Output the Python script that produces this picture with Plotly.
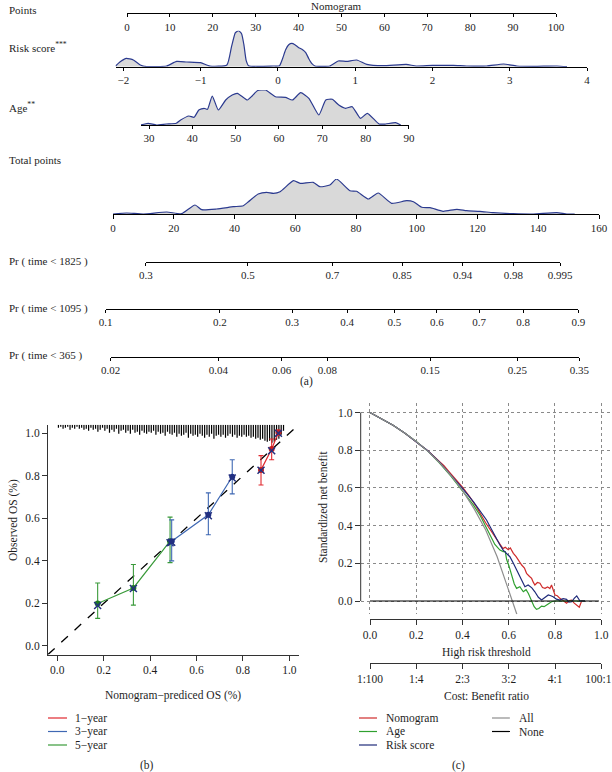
import plotly.graph_objects as go

W, H = 612, 772
FONT = "Liberation Serif"
TXT = "#1e1e1e"

# ---------------- data: nomogram (a) ----------------
points_ticks = [0, 10, 20, 30, 40, 50, 60, 70, 80, 90, 100]
risk_ticks = [-2, -1, 0, 1, 2, 3, 4]
age_ticks = [30, 40, 50, 60, 70, 80, 90]
total_ticks = [0, 20, 40, 60, 80, 100, 120, 140, 160]

risk_x = [-2.10, -2.04, -1.96, -1.87, -1.78, -1.70, -1.44, -1.31, -1.18, -1.00, -0.88,
          -0.66, -0.60, -0.55, -0.51, -0.47, -0.44, -0.41, -0.38, -0.06, 0.02, 0.06,
          0.10, 0.14, 0.18, 0.22, 0.27, 0.32, 0.36, 0.40, 0.44, 0.48, 0.67, 0.78, 0.89,
          1.02, 1.15, 1.36, 1.66, 1.79, 2.00, 2.27, 2.44, 2.70, 2.92, 3.09, 3.31, 3.61, 3.74]
risk_d = [0.7, 5.0, 8.3, 6.7, 1.7, 0.2, 0.7, 5.3, 4.7, 4.0, 0.7,
          1.7, 20.0, 34.0, 36.0, 33.0, 22.0, 6.0, 1.0, 0.7, 1.0, 8.0,
          17.0, 22.0, 23.3, 22.0, 19.0, 17.0, 14.0, 8.0, 3.0, 0.7, 0.7, 5.7, 5.3,
          6.7, 2.3, 1.0, 2.3, 0.7, 1.3, 1.3, 0.7, 0.7, 2.7, 0.7, 0.3, 0.7, 0.0]

age_x = [28.1, 29.8, 31.7, 34.0, 36.3, 37.3, 39.2, 40.4, 41.5, 42.7, 43.5, 44.6, 46.0,
         47.7, 49.2, 50.4, 52.7, 53.8, 55.0, 56.9, 59.2, 61.5, 63.1, 65.0, 66.9, 69.2,
         70.8, 72.3, 73.8, 75.4, 76.9, 78.8, 80.4, 83.1, 84.6, 86.9, 88.1]
age_d = [0.0, 1.7, 0.0, 1.0, 1.7, 5.0, 9.0, 7.7, 15.0, 16.7, 15.7, 29.0, 15.0,
         25.0, 30.0, 31.7, 25.0, 29.0, 34.3, 35.0, 28.3, 27.7, 25.0, 32.3, 26.7, 10.0,
         25.0, 25.7, 20.0, 16.7, 18.3, 6.7, 11.7, 1.0, 1.0, 2.3, 0.0]

total_x = [0, 4.5, 10, 17.7, 22.6, 27, 29.2, 34.1, 39.6, 42.9, 44.6, 47.8, 50.6, 52.8,
           55, 59.4, 61.6, 65.9, 68.1, 71.4, 73.6, 78, 80.2, 84.1, 87.3, 91.7, 96.7,
           98.9, 101.6, 104.4, 108.7, 113.2, 116.4, 120.8, 125.2, 131.8, 138.4, 146.1,
           149.4, 152]
total_d = [0, 1, 0, 2, 0.3, 9, 4.3, 5, 7.3, 8.3, 12.3, 20, 21.7, 20.7,
           22.3, 33.3, 30.7, 31.7, 27.3, 29, 35, 23.3, 22.7, 15, 21, 10.7, 13.3,
           12.3, 6.7, 6.3, 2.7, 4.7, 3.3, 2.7, 1.3, 0.3, 0, 1.3, 0, 0]

pr1825_labels = ["0.3", "0.5", "0.7", "0.85", "0.94", "0.98", "0.995"]
pr1825_pts = [10.8, 44.4, 72.2, 95.2, 115.1, 131.8, 147.2]
pr1095_labels = ["0.1", "0.2", "0.3", "0.4", "0.5", "0.6", "0.7", "0.8", "0.9"]
pr1095_pts = [-2.4, 35.2, 59.0, 77.1, 92.6, 106.6, 120.5, 135.0, 153.2]
pr365_labels = ["0.02", "0.04", "0.06", "0.08", "0.15", "0.25", "0.35"]
pr365_pts = [-0.8, 34.7, 55.5, 70.6, 104.4, 133.1, 153.5]

# ---------------- data: calibration (b) ----------------
cal_ticks = [0.0, 0.2, 0.4, 0.6, 0.8, 1.0]
ideal = [-0.04, 1.04]
cal1_x = [0.878, 0.924, 0.953]
cal1_y = [0.828, 0.926, 1.004]
cal1_lo = [0.757, 0.876, 0.990]
cal1_hi = [0.895, 0.973, 1.015]
cal1_bc = [0.826, 0.918, 1.000]
cal3_x = [0.493, 0.651, 0.754]
cal3_y = [0.492, 0.617, 0.796]
cal3_lo = [0.400, 0.523, 0.715]
cal3_hi = [0.593, 0.720, 0.876]
cal3_bc = [0.488, 0.612, 0.790]
cal5_x = [0.174, 0.328, 0.486]
cal5_y = [0.200, 0.273, 0.493]
cal5_lo = [0.130, 0.192, 0.392]
cal5_hi = [0.296, 0.383, 0.606]
cal5_bc = [0.190, 0.270, 0.485]
rug_x = [i / 100 + 0.005 for i in range(98)]
rug_len = [3, 2, 4, 3, 2, 5, 3, 4, 2, 4,
           3, 5, 4, 6, 3, 5, 4, 7, 5, 3,
           6, 4, 8, 5, 7, 4, 9, 6, 5, 8,
           6, 9, 5, 8, 7, 10, 6, 8, 9, 7,
           8, 6, 10, 7, 9, 8, 11, 7, 9, 10,
           8, 12, 9, 11, 10, 8, 13, 9, 11, 10,
           12, 9, 11, 13, 10, 12, 9, 14, 11, 10,
           12, 10, 13, 11, 9, 12, 10, 13, 11, 12,
           10, 12, 11, 13, 12, 14, 13, 15, 14, 16,
           17, 16, 18, 17, 15, 14, 10, 6]

# ---------------- data: decision curve (c) ----------------
thr_ticks = [0.0, 0.2, 0.4, 0.6, 0.8, 1.0]
cb_labels = ["1:100", "1:4", "2:3", "3:2", "4:1", "100:1"]
all_x = [0, 0.05, 0.10, 0.15, 0.20, 0.25, 0.30, 0.35, 0.40, 0.45, 0.50, 0.55, 0.60, 0.635]
all_y = [1.0, 0.968, 0.932, 0.891, 0.846, 0.795, 0.735, 0.666, 0.587, 0.49, 0.378, 0.235, 0.06, -0.07]
none_x = [0, 0.99]
none_y = [0, 0]
nom_x = [0, 0.05, 0.10, 0.15, 0.20, 0.25, 0.30, 0.32, 0.35, 0.40, 0.43, 0.46, 0.50, 0.53,
         0.548, 0.562, 0.575, 0.585, 0.598, 0.607, 0.62, 0.632, 0.641, 0.656, 0.668,
         0.677, 0.690, 0.699, 0.706, 0.713, 0.724, 0.735, 0.746, 0.757, 0.768, 0.778,
         0.785, 0.793, 0.80, 0.81, 0.821, 0.835, 0.85, 0.862, 0.872, 0.882, 0.894,
         0.905, 0.915, 0.93]
nom_y = [1.0, 0.968, 0.932, 0.891, 0.846, 0.797, 0.74, 0.718, 0.675, 0.604, 0.555, 0.50,
         0.415, 0.36, 0.33, 0.30, 0.278, 0.285, 0.272, 0.282, 0.253, 0.235, 0.218, 0.191,
         0.175, 0.147, 0.13, 0.12, 0.10, 0.085, 0.098, 0.094, 0.072, 0.067, 0.075, 0.066,
         0.085, 0.06, 0.032, 0.028, 0.014, 0.003, -0.012, 0.002, 0.005, -0.01, -0.02,
         -0.033, 0.0, 0.0]
rs_x = [0, 0.05, 0.10, 0.15, 0.20, 0.25, 0.30, 0.35, 0.40, 0.447, 0.48, 0.504, 0.53,
        0.548, 0.562, 0.576, 0.59, 0.605, 0.62, 0.634, 0.645, 0.656, 0.67, 0.684, 0.70,
        0.713, 0.728, 0.742, 0.756, 0.771, 0.782, 0.792, 0.806, 0.821, 0.835, 0.85, 0.86,
        0.872, 0.884, 0.894, 0.908, 0.93]
rs_y = [1.0, 0.968, 0.932, 0.891, 0.846, 0.797, 0.738, 0.670, 0.597, 0.527, 0.47, 0.43,
        0.37, 0.324, 0.297, 0.27, 0.255, 0.235, 0.20, 0.164, 0.14, 0.111, 0.076, 0.085,
        0.07, 0.049, 0.02, 0.005, 0.018, 0.032, 0.028, 0.023, 0.01, 0.005, 0.012, 0.009,
        -0.006, -0.004, 0.015, 0.027, 0.0, 0.0]
agec_x = [0, 0.05, 0.10, 0.15, 0.20, 0.25, 0.30, 0.35, 0.40, 0.447, 0.476, 0.50, 0.519,
          0.54, 0.562, 0.576, 0.585, 0.591, 0.60, 0.613, 0.624, 0.634, 0.648, 0.663,
          0.675, 0.685, 0.699, 0.71, 0.72, 0.73, 0.742, 0.753, 0.764, 0.775, 0.785,
          0.80, 0.85, 0.93]
agec_y = [1.0, 0.968, 0.932, 0.891, 0.846, 0.795, 0.733, 0.662, 0.585, 0.51, 0.455, 0.40,
          0.35, 0.30, 0.27, 0.262, 0.262, 0.22, 0.19, 0.129, 0.09, 0.067, 0.076, 0.049,
          0.06, 0.04, 0.005, -0.03, -0.044, -0.04, -0.027, -0.03, -0.021, -0.01, -0.004,
          0.0, 0.0, 0.0]

# ---------------- helpers ----------------
def fx(p):
    return p / W

def fy(p):
    return 1 - p / H

def sfx(n):
    return "" if n == 1 else str(n)

DENS_LINE = "#2B3A8F"
DENS_FILL = "#D9D9D9"
RED_C, BLUE_C, GREEN_C = "#E0282E", "#3F68B3", "#3A9A3A"
RED_D, BLUE_D, GREEN_D, NAVY = "#C81E1E", "#1F2F85", "#1E7A22", "#23307F"
DCA_RED, DCA_GREEN, DCA_BLUE, DCA_GRAY = "#CF2A2A", "#2FA02F", "#1F2A7A", "#8E8E8E"

layout = dict(
    width=W, height=H, margin=dict(l=0, r=0, t=0, b=0, autoexpand=False),
    paper_bgcolor="white", plot_bgcolor="rgba(0,0,0,0)", showlegend=False,
    font=dict(family=FONT, size=11, color=TXT),
)
traces = []
annotations = []
shapes = []

def tick_font(sz=11):
    return dict(family=FONT, size=sz, color=TXT)

def add_row(n, x0, x1, rng, base, top, ymax, tickvals, ticktext=None, ticklen=3):
    xa = dict(domain=[fx(x0), fx(x1)], range=rng, anchor="y" + sfx(n), showline=True,
              linecolor="black", linewidth=1, ticks="outside", ticklen=ticklen, tickwidth=1,
              tickcolor="black", tickvals=tickvals, showgrid=False, zeroline=False,
              tickfont=tick_font(11), fixedrange=True, automargin=False,
              ticklabeloverflow="allow")
    if ticktext is not None:
        xa["ticktext"] = ticktext
    layout["xaxis" + sfx(n)] = xa
    layout["yaxis" + sfx(n)] = dict(domain=[fy(base), fy(top)], range=[0, ymax],
                                    anchor="x" + sfx(n), visible=False, fixedrange=True,
                                    automargin=False)
    traces.append(go.Scatter(x=[], y=[], xaxis="x" + sfx(n), yaxis="y" + sfx(n),
                             showlegend=False, hoverinfo="skip"))

def density(n, xs, ds):
    traces.append(go.Scatter(x=xs, y=ds, xaxis="x" + sfx(n), yaxis="y" + sfx(n), mode="lines",
                             line=dict(color=DENS_LINE, width=1.2, shape="spline", smoothing=0.5),
                             fill="tozeroy", fillcolor=DENS_FILL, showlegend=False,
                             hoverinfo="skip"))

# pixel scales of the nomogram rows
def risk_px(v):
    return 123.3 + (v + 2) * 77.3

def age_px(v):
    return 149.0 + (v - 30) * 4.333

def tot_px(v):
    return 113.0 + v * 486.0 / 160.0

# ---------------- (a) nomogram ----------------
add_row(1, 127, 556, [0, 100], 13.3, 6, 1, points_ticks)
add_row(2, risk_px(-2.1), risk_px(4), [-2.1, 4], 66.7, 30.7, 36, risk_ticks)
density(2, risk_x, risk_d)
add_row(3, age_px(28.15), age_px(90), [28.15, 90], 125, 90, 35, age_ticks)
density(3, age_x, age_d)
add_row(4, tot_px(0), tot_px(160), [0, 160], 214, 179, 35, total_ticks, ticklen=4)
density(4, total_x, total_d)
add_row(5, tot_px(pr1825_pts[0]), tot_px(pr1825_pts[-1]), [pr1825_pts[0], pr1825_pts[-1]],
        261.7, 255, 1, pr1825_pts, pr1825_labels)
add_row(6, tot_px(pr1095_pts[0]), tot_px(pr1095_pts[-1]), [pr1095_pts[0], pr1095_pts[-1]],
        309, 302, 1, pr1095_pts, pr1095_labels)
add_row(7, tot_px(pr365_pts[0]), tot_px(pr365_pts[-1]), [pr365_pts[0], pr365_pts[-1]],
        356.7, 350, 1, pr365_pts, pr365_labels)

def ann(text, x, y, size=11, xanchor="left", yanchor="middle", angle=0):
    annotations.append(dict(text=text, x=fx(x), y=fy(y), xref="paper", yref="paper",
                            showarrow=False, xanchor=xanchor, yanchor=yanchor,
                            textangle=angle, font=dict(family=FONT, size=size, color=TXT)))

ann("Nomogram", 336, 5.5, xanchor="center")
ann("Points", 7, 10)
ann("Risk score<sup>***</sup>", 7, 47)
ann("Age<sup>**</sup>", 7, 107)
ann("Total points", 7, 160)
ann("Pr ( time &lt; 1825 )", 7, 261)
ann("Pr ( time &lt; 1095 )", 7, 308)
ann("Pr ( time &lt; 365 )", 7, 355)
ann("(a)", 306, 381, size=11.5, xanchor="center")

# ---------------- (b) calibration ----------------
layout["xaxis8"] = dict(domain=[fx(48), fx(298.6)], range=[-0.04, 1.04], anchor="y8",
                        showline=True, linecolor="#333", linewidth=1, ticks="outside",
                        ticklen=5, tickcolor="#333", tickvals=cal_ticks, tickformat=".1f",
                        showgrid=False, zeroline=False, tickfont=tick_font(11.5),
                        automargin=False)
layout["yaxis8"] = dict(domain=[fy(654.5), fy(424.8)], range=[-0.04, 1.04], anchor="x8",
                        showline=True, linecolor="#333", linewidth=1, ticks="outside",
                        ticklen=5, tickcolor="#333", tickvals=cal_ticks, tickformat=".1f",
                        showgrid=False, zeroline=False, tickfont=tick_font(11.5),
                        automargin=False)

rug_xs, rug_ys = [], []
for xv, ln in zip(rug_x, rug_len):
    rug_xs += [xv, xv, None]
    rug_ys += [1.04, 1.04 - ln / 213.3, None]
traces.append(go.Scatter(x=rug_xs, y=rug_ys, xaxis="x8", yaxis="y8", mode="lines",
                         line=dict(color="black", width=1.2), showlegend=False,
                         hoverinfo="skip"))
traces.append(go.Scatter(x=ideal, y=ideal, xaxis="x8", yaxis="y8", mode="lines",
                         line=dict(color="black", width=1.3, dash="dash"), showlegend=False,
                         hoverinfo="skip"))

for xs, ys, lo, hi, bc, lc, dc in [
    (cal5_x, cal5_y, cal5_lo, cal5_hi, cal5_bc, GREEN_C, GREEN_D),
    (cal3_x, cal3_y, cal3_lo, cal3_hi, cal3_bc, BLUE_C, BLUE_D),
    (cal1_x, cal1_y, cal1_lo, cal1_hi, cal1_bc, RED_C, RED_D),
]:
    traces.append(go.Scatter(
        x=xs, y=ys, xaxis="x8", yaxis="y8", mode="lines",
        line=dict(color=lc, width=1.2), showlegend=False, hoverinfo="skip",
        error_y=dict(type="data", symmetric=False,
                     array=[h - y for h, y in zip(hi, ys)],
                     arrayminus=[y - l for y, l in zip(ys, lo)],
                     color=lc, thickness=1.1, width=2.5)))
    traces.append(go.Scatter(x=xs, y=ys, xaxis="x8", yaxis="y8", mode="markers",
                             marker=dict(color=dc, size=6), showlegend=False,
                             hoverinfo="skip"))
    traces.append(go.Scatter(x=xs, y=bc, xaxis="x8", yaxis="y8", mode="markers",
                             marker=dict(symbol="x-thin-open", size=7, color=NAVY,
                                         line=dict(color=NAVY, width=1.5)),
                             showlegend=False, hoverinfo="skip"))

ann("Observed OS (%)", 13, 520, size=11.5, xanchor="center", angle=-90)
ann("Nomogram\u2212prediced OS (%)", 173, 695, size=11.5, xanchor="center")
for i, (lab, col) in enumerate([("1\u2212year", RED_C), ("3\u2212year", BLUE_C),
                                ("5\u2212year", GREEN_C)]):
    yy = 718 + i * 13.5
    shapes.append(dict(type="line", xref="paper", yref="paper", x0=fx(48), x1=fx(67),
                       y0=fy(yy), y1=fy(yy), line=dict(color=col, width=1.2)))
    ann(lab, 73, yy, size=11.5)
ann("(b)", 147, 765, size=11.5, xanchor="center")

# ---------------- (c) decision curve ----------------
grid = dict(showgrid=True, gridcolor="#8a8a8a", griddash="dot", gridwidth=1)
layout["xaxis9"] = dict(domain=[fx(360.7), fx(610.5)], range=[-0.04, 1.04], anchor="y9",
                        showline=False, ticks="", showticklabels=False, tickvals=thr_ticks,
                        zeroline=False, automargin=False, **grid)
layout["yaxis9"] = dict(domain=[fy(614.2), fy(403.1)], range=[-0.07, 1.05], anchor="x9",
                        showline=False, ticks="outside", ticklen=5, tickcolor="#333",
                        tickvals=thr_ticks, tickformat=".1f", zeroline=False,
                        tickfont=tick_font(11.5), automargin=False, **grid)
shapes.append(dict(type="line", xref="x9 domain", yref="y9", x0=0, x1=0, y0=0, y1=1,
                   line=dict(color="#333", width=1)))

# threshold axis, cost:benefit axis (all labels but the last), and the last label
# drawn on a twin axis shifted slightly left so that it stays inside the page
for n, ypos, tv, tt, show_line, tcol, shift in [
    (10, 619.3, thr_ticks, None, True, "#333", 0),
    (11, 663.3, thr_ticks, cb_labels[:-1] + [""], True, "#333", 0),
    (12, 663.3, thr_ticks[-1:], cb_labels[-1:], False, "rgba(0,0,0,0)", -3),
]:
    xa = dict(domain=[fx(370), fx(601.3)], range=[0, 1], anchor="y" + str(n),
              showline=show_line, linecolor="#333", linewidth=1, ticks="outside", ticklen=5,
              tickcolor=tcol, tickvals=tv, showgrid=False, zeroline=False,
              tickfont=tick_font(11.5), automargin=False, ticklabeloverflow="allow")
    if shift:
        xa["ticklabelshift"] = shift
    if tt is None:
        xa["tickformat"] = ".1f"
    else:
        xa["ticktext"] = tt
    layout["xaxis" + str(n)] = xa
    layout["yaxis" + str(n)] = dict(domain=[fy(ypos), fy(ypos - 4)], range=[0, 1],
                                    anchor="x" + str(n), visible=False, automargin=False)
    traces.append(go.Scatter(x=[], y=[], xaxis="x" + str(n), yaxis="y" + str(n),
                             showlegend=False, hoverinfo="skip"))

for xs, ys, col in [(nom_x, nom_y, DCA_RED), (agec_x, agec_y, DCA_GREEN),
                    (rs_x, rs_y, DCA_BLUE), (all_x, all_y, DCA_GRAY),
                    (none_x, none_y, "black")]:
    traces.append(go.Scatter(x=xs, y=ys, xaxis="x9", yaxis="y9", mode="lines",
                             line=dict(color=col, width=1.2), showlegend=False,
                             hoverinfo="skip"))

ann("Standardized net benefit", 323, 507, size=11.5, xanchor="center", angle=-90)
ann("High risk threshold", 486, 652, size=11.5, xanchor="center")
ann("Cost: Benefit ratio", 486, 696, size=11.5, xanchor="center")
for i, (lab, col) in enumerate([("Nomogram", DCA_RED), ("Age", DCA_GREEN),
                                ("Risk score", DCA_BLUE)]):
    yy = 718 + i * 13.5
    shapes.append(dict(type="line", xref="paper", yref="paper", x0=fx(359), x1=fx(377),
                       y0=fy(yy), y1=fy(yy), line=dict(color=col, width=1.2)))
    ann(lab, 384, yy, size=11.5)
for i, (lab, col) in enumerate([("All", DCA_GRAY), ("None", "black")]):
    yy = 718 + i * 13.5
    shapes.append(dict(type="line", xref="paper", yref="paper", x0=fx(492), x1=fx(510),
                       y0=fy(yy), y1=fy(yy), line=dict(color=col, width=1.2)))
    ann(lab, 517, yy, size=11.5)
ann("(c)", 458, 765, size=11.5, xanchor="center")

layout["annotations"] = annotations
layout["shapes"] = shapes

fig = go.Figure(data=traces, layout=layout)
fig.write_html("out.html", config={"displayModeBar": False},
               post_script="document.body.style.margin='0';document.body.style.overflow='hidden';")
